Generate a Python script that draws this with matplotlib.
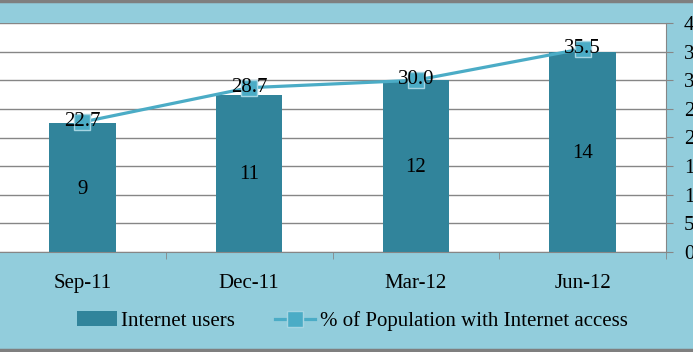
import matplotlib.pyplot as plt
import numpy as np

# chart data
quarters = ['Sep-11', 'Dec-11', 'Mar-12', 'Jun-12']
users = [9, 11, 12, 14]
pct_access = [22.7, 28.7, 30.0, 35.5]

bg = '#92CDDC'
bar_color = '#31849B'
line_color = '#4BACC6'
grid_color = '#868686'

plt.rcParams['font.family'] = ['Liberation Serif', 'DejaVu Serif']
fs = 15

fig = plt.figure(figsize=(6.93, 3.52), dpi=100, facecolor=bg)
W, H = 693, 352
ax = fig.add_axes([-1 / W, (H - 252) / H, 667 / W, 229 / H])
ax.set_facecolor('white')

x = np.arange(len(quarters))
bars = ax.bar(x, users, width=0.4, color=bar_color, zorder=2, label='Internet users')
for xi, v in zip(x, users):
    ax.text(xi, v / 2 - 0.1, str(v), ha='center', va='center', fontsize=fs, zorder=3)

ax.set_xlim(-0.5, 3.5)
ax.set_ylim(0, 16)
ax.set_yticks(np.arange(0, 17, 2))
ax.yaxis.grid(True, color=grid_color, linewidth=1)
ax.set_axisbelow(True)
ax.tick_params(axis='y', left=False, labelleft=False)
ax.set_xticks(x)
ax.set_xticklabels(quarters, fontsize=fs)
ax.set_xticks([0.5, 1.5, 2.5, 3.5], minor=True)
ax.tick_params(axis='x', which='major', length=0, pad=16)
ax.tick_params(axis='x', which='minor', length=5, color=grid_color, direction='out')
for s in ['top', 'left']:
    ax.spines[s].set_visible(False)
ax.spines['bottom'].set_color(grid_color)
ax.spines['right'].set_visible(False)

ax2 = ax.twinx()
ax2.set_ylim(0, 40)
ax2.set_yticks(np.arange(0, 41, 5))
ax2.tick_params(axis='y', length=5, color=grid_color, labelsize=fs, pad=8)
for s in ['top', 'left', 'bottom']:
    ax2.spines[s].set_visible(False)
ax2.spines['right'].set_color(grid_color)
line, = ax2.plot(x, pct_access, color=line_color, linewidth=2.3, marker='s', markersize=11,
                 markerfacecolor=line_color, markeredgecolor='#A5D5E2', markeredgewidth=1,
                 label='% of Population with Internet access', zorder=3)
for xi, v in zip(x, pct_access):
    ax2.text(xi, v + 0.1, f'{v:.1f}', ha='center', va='center', fontsize=fs, zorder=4)

fig.legend(handles=[bars, line], loc='center', bbox_to_anchor=(0.508, 1 - 321 / H), ncol=2,
           frameon=False, fontsize=fs, handlelength=1.95, columnspacing=1.9, handletextpad=0.2)

# outer border lines of the chart area
fig.add_artist(plt.Line2D([0, 1], [1 - 1 / H, 1 - 1 / H], color='#7F7F7F', linewidth=2.5,
                          transform=fig.transFigure))
fig.add_artist(plt.Line2D([0, 1], [2 / H, 2 / H], color='#7F7F7F', linewidth=2.5,
                          transform=fig.transFigure))

fig.savefig('out.png', dpi=100, facecolor=bg)
